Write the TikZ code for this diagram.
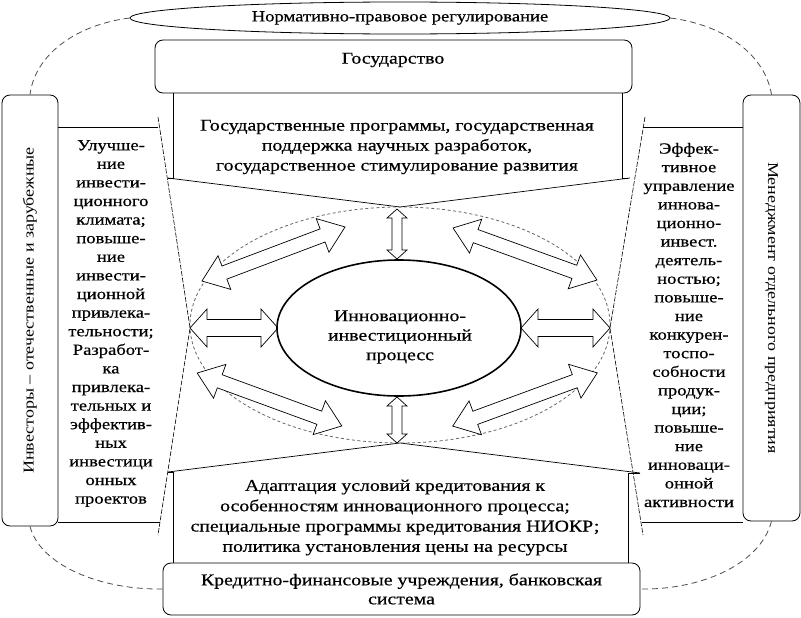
\documentclass[tikz,border=0pt]{standalone}
\usepackage{fontspec}
\setmainfont{Liberation Serif}[FakeStretch=1.2]
\newfontfamily\mf{Liberation Serif}[FakeStretch=1.2,FakeBold=0.5]
\usetikzlibrary{shapes.geometric}
\tikzset{
  pics/dblarrow/.style n args={4}{code={
    \draw[arrowline] (-#1,0) -- ({-#1+#2},#3) -- ({-#1+#2},#4) -- ({#1-#2},#4) -- ({#1-#2},#3) -- (#1,0)
      -- ({#1-#2},-#3) -- ({#1-#2},-#4) -- ({-#1+#2},-#4) -- ({-#1+#2},-#3) -- cycle;
  }}
}
\begin{document}
\begin{tikzpicture}[x=1pt,y=-1pt,
  box/.style={draw, line width=0.8pt},
  rbox/.style={box, rounded corners=8pt, inner sep=0pt},
  ln/.style={line width=0.7pt},
  sidedash/.style={line width=0.6pt, dash pattern=on 5pt off 1.5pt},
  outerdash/.style={line width=0.8pt, draw=black!70, dash pattern=on 6pt off 4pt},
  circdash/.style={line width=0.8pt, draw=black!60, dash pattern=on 3pt off 2.5pt},
  arrowline/.style={draw, line width=0.7pt, fill=white, line join=miter},
  maintxt/.style={font=\mf\fontsize{16.5}{20}\selectfont, align=center, inner sep=0pt},
  coltxt/.style={font=\mf\fontsize{15.5}{18.6}\selectfont, align=center, inner sep=0pt},
  sidetxt/.style={font=\fontsize{15}{18}\selectfont}
]
\useasboundingbox (0,0) rectangle (801,618);

% top ellipse
\node[box, ellipse, minimum width=540, minimum height=32, inner sep=0pt,
      font=\mf\fontsize{15.5}{18}\selectfont] (norm) at (400,18) {Нормативно-правовое регулирование};

% state box
\node[rbox, minimum width=477, minimum height=53] (gos) at (393.5,66.5) {};
\node[maintxt] (gost) at (393,60) {Государство};

% programme frame
\draw[ln] (168,178) -- (173,178) -- (173,93);
\draw[ln] (628,178) -- (622,178) -- (622,93);
\node[maintxt] (prog) at (397,147) {Государственные программы, государственная\\поддержка научных разработок,\\государственное стимулирование развития};

% bottom frame
\draw[ln] (168,472) -- (173,472) -- (173,563);
\draw[ln] (640,473) -- (628,473) -- (628,563);
\node[maintxt, font=\mf\fontsize{16.5}{20.3}\selectfont] (kred) at (395,517.5)
  {Адаптация условий кредитования к\\особенностям инновационного процесса;\\специальные программы кредитования НИОКР;\\политика установления цены на ресурсы};

\node[rbox, maintxt, draw, minimum width=477, minimum height=52, font=\mf\fontsize{16.5}{19}\selectfont] (bank) at (401.5,589)
  {Кредитно-финансовые учреждения, банковская\\система};

% side boxes
\node[rbox, rotate=90, minimum width=431, minimum height=56, sidetxt] (inv) at (30,310.5) {Инвесторы – отечественные и зарубежные};
\node[rbox, rotate=-90, minimum width=426, minimum height=57, sidetxt] (men) at (771.5,308) {Менеджмент отдельного предприятия};

% columns
\draw[ln] (58,127) -- (158,127);
\draw[ln] (58,522) -- (160,522);
\draw[ln] (643,127) -- (743,127);
\draw[ln] (642,522) -- (743,522);
\draw[sidedash] (158,117) -- (190,328) -- (158,535);
\draw[sidedash] (645,117) -- (610,328) -- (643,535);

\node[coltxt] (lcol) at (111,323.5) {Улучше-\\ние\\инвести-\\ционного\\климата;\\повыше-\\ние\\инвести-\\ционной\\привлека-\\тельности;\\Разработ-\\ка\\привлека-\\тельных и\\эффектив-\\ных\\инвестици\\онных\\проектов};
\node[coltxt] (rcol) at (689,325) {Эффек-\\тивное\\управление\\иннова-\\ционно-\\инвест.\\деятель-\\ностью;\\повыше-\\ние\\конкурен-\\тоспо-\\собности\\продук-\\ции;\\повыше-\\ние\\инноваци-\\онной\\активности};

% funnel lines
\draw[ln] (168,178) -- (400,207) -- (630,178);
\draw[ln] (168,472) -- (400,443) -- (640,473);

% dashed circle
\draw[circdash] (400,325) ellipse [x radius=210, y radius=118];

% arrows
\pic[rotate=20.7] at (273.5,254) {dblarrow={76.5}{24}{18}{7}};
\pic[rotate=-19.9] at (525,254) {dblarrow={76.5}{24}{18}{7}};
\pic[rotate=-20.1] at (269.5,399.5) {dblarrow={77}{24}{18}{7}};
\pic[rotate=20.2] at (525,399.5) {dblarrow={77}{24}{18}{7}};
\pic at (234,328) {dblarrow={44}{17}{19}{8.5}};
\pic at (565.5,328) {dblarrow={44.5}{17}{19}{8.5}};
\pic[rotate=90] at (397,234) {dblarrow={25}{9}{10}{5}};
\pic[rotate=90] at (397,420) {dblarrow={23}{9}{10}{5}};

% central process
\node[draw, ellipse, line width=1.6pt, minimum width=244, minimum height=136, fill=white] (proc) at (399,328) {};
\node[maintxt, font=\mf\fontsize{16.5}{19.5}\selectfont] (proct) at (400,337) {Инновационно-\\инвестиционный\\процесс};

% outer dashed connections
\draw[outerdash] (norm.west) .. controls (75,25) and (35,55) .. (inv.east);
\draw[outerdash] (norm.east) .. controls (725,25) and (765,55) .. (men.west);
\draw[outerdash] (inv.west) .. controls (40,565) and (100,590) .. (bank.west);
\draw[outerdash] (men.east) .. controls (760,565) and (700,590) .. (bank.east);
\end{tikzpicture}
\end{document}
